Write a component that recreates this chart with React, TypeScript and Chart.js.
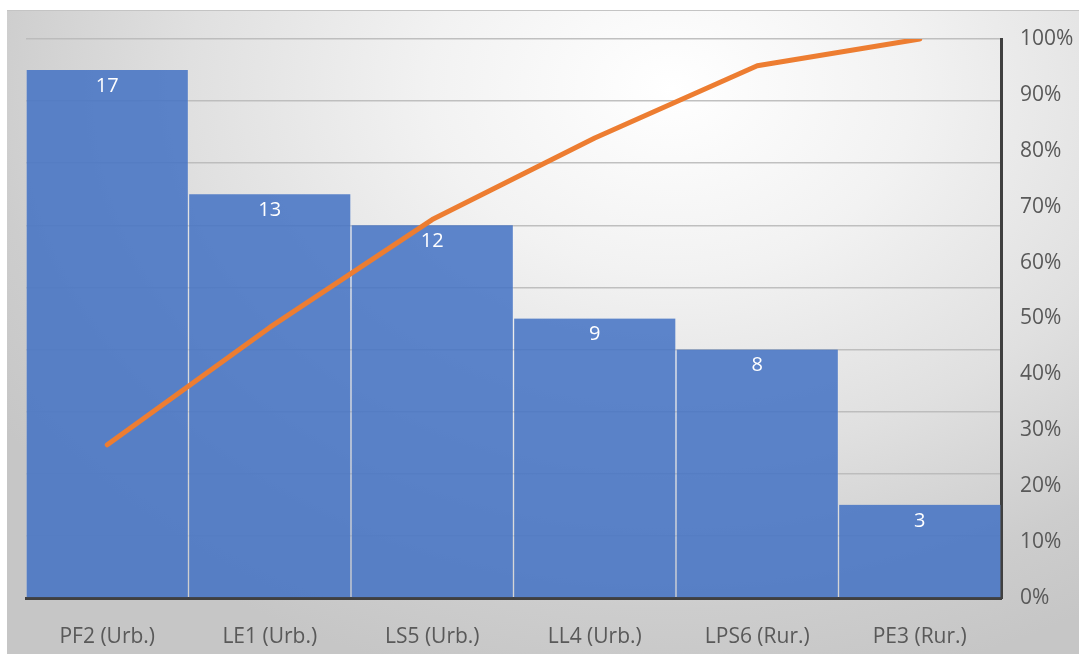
import React, { useEffect, useRef } from "react";
import { Chart, registerables } from "chart.js";

Chart.register(...registerables);

const categories = ["PF2 (Urb.)", "LE1 (Urb.)", "LS5 (Urb.)", "LL4 (Urb.)", "LPS6 (Rur.)", "PE3 (Rur.)"];
const counts = [17, 13, 12, 9, 8, 3];
const cumulativePct = [0.274, 0.484, 0.677, 0.823, 0.952, 1.0];
const pctTicks = [0, 0.1, 0.2, 0.3, 0.4, 0.5, 0.6, 0.7, 0.8, 0.9, 1.0];

const FONT = "'Open Sans', 'Noto Sans', sans-serif";

const barLabelPlugin = {
  id: "barLabels",
  afterDatasetsDraw(chart: any) {
    const meta = chart.getDatasetMeta(0);
    const ctx = chart.ctx;
    ctx.save();
    ctx.fillStyle = "#ffffff";
    ctx.font = `20px ${FONT}`;
    ctx.textAlign = "center";
    ctx.textBaseline = "middle";
    meta.data.forEach((el: any, i: number) => {
      ctx.fillText(String(counts[i]), el.x, el.y + 16);
    });
    ctx.restore();
  },
};

export default function App() {
  const ref = useRef<HTMLCanvasElement>(null);
  useEffect(() => {
    if (!ref.current) return;
    const chart = new Chart(ref.current, {
      type: "bar",
      data: {
        labels: categories,
        datasets: [
          {
            type: "bar",
            data: counts,
            backgroundColor: "rgba(68,114,196,0.86)",
            borderColor: "rgba(255,255,255,0.12)",
            borderWidth: { left: 1, right: 1, top: 0, bottom: 0 },
            borderSkipped: false,
            categoryPercentage: 1,
            barPercentage: 1,
            yAxisID: "y",
            order: 2,
          } as any,
          {
            type: "line",
            data: cumulativePct,
            borderColor: "#ED7D31",
            borderWidth: 5,
            pointRadius: 0,
            borderCapStyle: "round",
            borderJoinStyle: "round",
            tension: 0,
            yAxisID: "y1",
            order: 1,
          } as any,
        ],
      },
      options: {
        animation: false,
        responsive: false,
        maintainAspectRatio: false,
        layout: { padding: { left: 26, top: 39, right: 0, bottom: 0 } },
        plugins: { legend: { display: false }, tooltip: { enabled: false } },
        scales: {
          x: {
            grid: { display: false },
            border: { display: true, color: "#404040", width: 3 },
            ticks: { color: "#595959", font: { family: FONT, size: 21 }, padding: 18 },
            afterFit: (s: any) => { s.height = 56; },
          },
          y: {
            position: "left",
            min: 0,
            max: 18,
            ticks: { display: false, stepSize: 2 },
            grid: { color: "rgba(185,185,185,0.9)", lineWidth: 1.5, drawTicks: false },
            border: { display: false },
            afterFit: (s: any) => { s.width = 0; },
          },
          y1: {
            position: "right",
            min: 0,
            max: 1,
            afterBuildTicks: (s: any) => { s.ticks = pctTicks.map((v) => ({ value: v })); },
            ticks: {
              color: "#595959",
              font: { family: FONT, size: 21 },
              padding: 19,
              callback: (v: any) => `${Math.round(Number(v) * 100)}%`,
            },
            grid: { display: false, drawTicks: false },
            border: { display: true, color: "#404040", width: 3 },
            afterFit: (s: any) => { s.width = 78; },
          },
        },
      },
      plugins: [barLabelPlugin],
    });
    return () => chart.destroy();
  }, []);

  return (
    <div style={{ position: "fixed", left: 0, top: 0, width: 1079, height: 654, background: "#ffffff" }}>
      <div
        style={{
          position: "absolute",
          left: 7,
          top: 10,
          width: 1072,
          height: 644,
          borderTop: "1px solid #c4c4c4",
          background:
            "radial-gradient(ellipse 75% 95% at 62% 12%, #ffffff 0%, #f2f2f2 30%, #e0e0e0 60%, #cdcdcd 85%, #c6c6c6 100%)",
        }}
      />
      <canvas ref={ref} width={1079} height={654} style={{ position: "absolute", left: 0, top: 0, width: 1079, height: 654 }} />
    </div>
  );
}
